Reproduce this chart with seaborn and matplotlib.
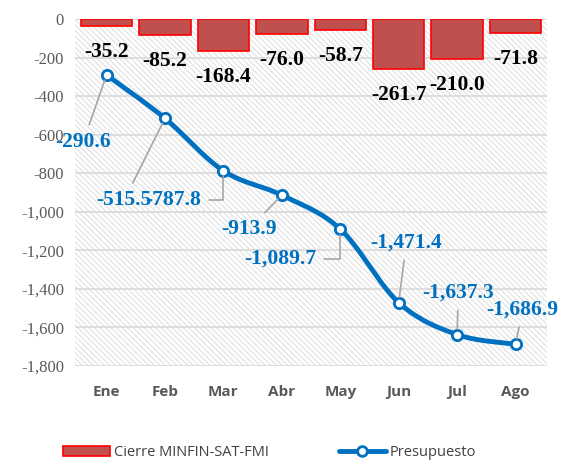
"""Resultado fiscal acumulado: cierre vs presupuesto."""
import numpy as np
import matplotlib
matplotlib.use('Agg')
import matplotlib.pyplot as plt
from matplotlib.patches import Patch, Rectangle
from matplotlib.lines import Line2D
import seaborn as sns

meses = ['Ene', 'Feb', 'Mar', 'Abr', 'May', 'Jun', 'Jul', 'Ago']
cierre = [-35.2, -85.2, -168.4, -76.0, -58.7, -261.7, -210.0, -71.8]
presupuesto = [-290.6, -515.5, -787.8, -913.9, -1089.7, -1471.4, -1637.3, -1686.9]
yticks = list(range(0, -1801, -200))

# posiciones de las etiquetas azules (x, y, alineacion, conexion)
etq_pos = [(-0.40, -638, 'center', None), (-0.17, -939, 'left', None),
           (1.62, -939, 'right', 'codo'), (2.44, -1089, 'center', None),
           (2.98, -1245, 'center', 'codo'), (5.13, -1162, 'center', None),
           (6.02, -1421, 'center', None), (7.12, -1509, 'center', None)]

AZUL = '#0070c0'
ROJO = '#c0504d'
GRIS = '#595959'

sns.set_theme(style='white')
plt.rcParams['hatch.linewidth'] = 0.9

fig = plt.figure(figsize=(5.64, 4.63), dpi=100)
ax = fig.add_axes([0.133, 0.2095, 0.837, 0.7495])

# fondo rayado
ax.add_patch(Rectangle((0, 0), 1, 1, transform=ax.transAxes, facecolor='white',
                       hatch='\\' * 6, edgecolor='#e3e3e3', lw=0, zorder=0))

sns.barplot(x=meses, y=cierre, color=ROJO, edgecolor='#ff0000', linewidth=1.2,
            width=0.88, saturation=1, ax=ax, zorder=2)

# linea suavizada (catmull-rom, como en Excel)
xs, ys = [], []
px = np.arange(len(presupuesto), dtype=float)
py = np.array(presupuesto, dtype=float)
for i in range(len(px) - 1):
    p0 = (px[max(i - 1, 0)], py[max(i - 1, 0)])
    p1 = (px[i], py[i])
    p2 = (px[i + 1], py[i + 1])
    p3 = (px[min(i + 2, len(px) - 1)], py[min(i + 2, len(px) - 1)])
    for t in np.linspace(0, 1, 20, endpoint=False):
        t2, t3 = t * t, t * t * t
        for k, out in ((0, xs), (1, ys)):
            out.append(0.5 * (2 * p1[k] + (-p0[k] + p2[k]) * t
                              + (2 * p0[k] - 5 * p1[k] + 4 * p2[k] - p3[k]) * t2
                              + (-p0[k] + 3 * p1[k] - 3 * p2[k] + p3[k]) * t3))
xs.append(px[-1])
ys.append(py[-1])
ax.plot(xs, ys, color=AZUL, lw=3.5, zorder=3, solid_capstyle='round')
sns.scatterplot(x=px, y=py, marker='o', s=55, facecolor='white', edgecolor=AZUL,
                linewidth=2, ax=ax, zorder=4)

# etiquetas de barras
for i, v in enumerate(cierre):
    ax.text(i, v - 135, f'{v:.1f}', ha='center', va='center', fontsize=15.5,
            fontweight='bold', family='Liberation Serif', color='black', zorder=5)

# etiquetas de la linea con lineas guia
for i, v in enumerate(presupuesto):
    tx, ty, ha, con = etq_pos[i]
    props = dict(arrowstyle='-', color='#a6a6a6', lw=1.2, shrinkA=3, shrinkB=4)
    if con == 'codo':
        props.update(connectionstyle='angle,angleA=0,angleB=90,rad=0', relpos=(1, 0.5))
    ax.annotate(f'{v:,.1f}', xy=(i, v), xytext=(tx, ty), ha=ha, va='center',
                fontsize=15.5, fontweight='bold', family='Liberation Serif', color=AZUL,
                arrowprops=props, zorder=5)

ax.set_ylim(-1800, 0)
ax.set_xlim(-0.54, 7.54)
ax.set_yticks(yticks)
ax.set_yticklabels([f'{t:,}' for t in yticks], family='Liberation Serif',
                   fontsize=12, color=GRIS)
ax.yaxis.grid(True, color='#d9d9d9', lw=1.2, zorder=1)
ax.set_axisbelow(True)
ax.tick_params(axis='x', length=0, pad=14)
ax.tick_params(axis='y', length=0, pad=8)
for lab in ax.get_xticklabels():
    lab.set_fontfamily('Open Sans')
    lab.set_fontweight('bold')
    lab.set_fontsize(11)
    lab.set_color(GRIS)
for s in ax.spines.values():
    s.set_visible(False)

handles = [Patch(facecolor=ROJO, edgecolor='#ff0000', lw=1.2),
           Line2D([0], [0], color=AZUL, lw=3.5, marker='o', markersize=7,
                  markerfacecolor='white', markeredgecolor=AZUL, markeredgewidth=2)]
fig.legend(handles, ['Cierre MINFIN-SAT-FMI', 'Presupuesto'], loc='center',
           bbox_to_anchor=(0.478, 0.022), ncol=2, frameon=False, columnspacing=4.8,
           handlelength=3.2, handletextpad=0.3,
           prop={'family': 'Open Sans', 'size': 10.5})
for t in fig.legends[0].get_texts():
    t.set_color('#404040')

fig.savefig('out.png', dpi=100)
plt.close(fig)
